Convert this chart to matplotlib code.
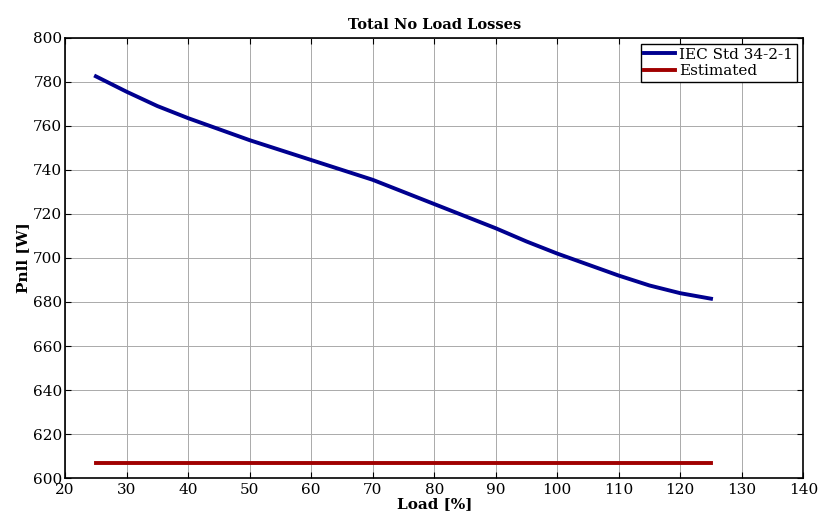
import numpy as np
import matplotlib.pyplot as plt

load = [25, 30, 35, 40, 45, 50, 55, 60, 65, 70, 75, 80, 85, 90, 95, 100, 105, 110, 115, 120, 125]
pnll_iec = [782.5, 775.5, 769.0, 763.5, 758.5, 753.5, 749.0, 744.5, 740.0, 735.5, 730.0,
            724.5, 719.0, 713.5, 707.5, 702.0, 697.0, 692.0, 687.5, 684.0, 681.5]
pnll_est = [607.0] * len(load)

xticks = np.arange(20, 141, 10)
yticks = np.arange(600, 801, 20)

plt.rcParams['font.family'] = ['DejaVu Serif']

fig = plt.figure(figsize=(8.35, 5.18), dpi=100)
ax = fig.add_axes([0.078, 0.077, 0.884, 0.850])

ax.plot(load, pnll_iec, color='#00008f', lw=2.8, label='IEC Std 34-2-1')
ax.plot(load, pnll_est, color='#a00000', lw=2.8, label='Estimated')

ax.set_xlim(20, 140)
ax.set_ylim(600, 800)
ax.set_xticks(xticks)
ax.set_yticks(yticks)
ax.tick_params(direction='in', top=True, right=True, labelsize=11, length=4, pad=2)
ax.tick_params(axis='x', pad=3.5)
ax.grid(True, color='#aaaaaa', lw=0.7)
for s in ax.spines.values():
    s.set_linewidth(1.2)

ax.set_title('Total No Load Losses', fontsize=10.5, fontweight='bold', pad=6)
ax.set_xlabel('Load [%]', fontsize=11, fontweight='bold', labelpad=0)
ax.set_ylabel('Pnll [W]', fontsize=11, fontweight='bold', labelpad=2)

leg = ax.legend(loc='upper right', fontsize=11, fancybox=False, framealpha=1,
                edgecolor='black', borderaxespad=0.4, handlelength=2.0,
                borderpad=0.25, labelspacing=0.15, handletextpad=0.3)
leg.get_frame().set_linewidth(1.0)

fig.savefig('out.png', dpi=100)
